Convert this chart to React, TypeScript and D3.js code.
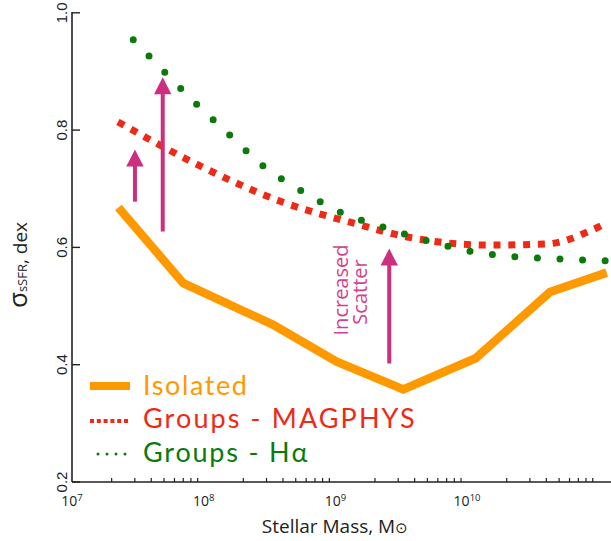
import React from 'react';
import * as d3 from 'd3';

const W = 611, H = 541;

// Data (log10 stellar mass, sigma_sSFR in dex)
const isolatedLogM = [7.352, 7.845, 8.528, 9.010, 9.516, 10.065, 10.629, 11.06];
const isolatedSigma = [0.668, 0.539, 0.468, 0.405, 0.358, 0.411, 0.524, 0.557];
const magphysLogM = [7.349, 7.972, 8.602, 9.111, 9.589, 10.151, 10.607, 10.933, 11.047];
const magphysSigma = [0.814, 0.739, 0.677, 0.643, 0.616, 0.604, 0.606, 0.628, 0.640];
const haLogM = [7.465, 7.708, 7.951, 8.205, 8.456, 8.731, 9.048, 9.371, 9.701, 10.035, 10.377, 10.721, 11.065];
const haSigma = [0.954, 0.898, 0.843, 0.790, 0.738, 0.698, 0.659, 0.634, 0.611, 0.593, 0.584, 0.580, 0.577];
const arrowLogM = [7.478, 7.689, 9.409];
const arrowFrom = [0.678, 0.627, 0.402];
const arrowTo = [0.767, 0.890, 0.598];
const yTicks = [0.2, 0.4, 0.6, 0.8, 1.0];
const yTickLabels = ['0.2', '0.4', '0.6', '0.8', '1.0'];
const xDecades = [7, 8, 9, 10];
const legendLabels = ['Isolated', 'Groups - MAGPHYS', 'Groups - H\u03b1'];

const ORANGE = '#ff9900';
const RED = '#ee2a16';
const GREEN = '#0b7a0b';
const MAGENTA = '#cc2f80';

const FONT = '"Open Sans", "Noto Sans", sans-serif';
const LFONT = 'Lato, "Open Sans", sans-serif';

export default function App() {
  const x = d3.scaleLog().domain([1e7, Math.pow(10, 11.093)]).range([72, 611]);
  const y = d3.scaleLinear().domain([0.2, 1.0]).range([482, 12.8]);

  const lin = d3.line<[number, number]>()
    .x(d => x(Math.pow(10, d[0])))
    .y(d => y(d[1]));
  const smooth = d3.line<[number, number]>()
    .x(d => x(Math.pow(10, d[0])))
    .y(d => y(d[1]))
    .curve(d3.curveMonotoneX);

  const isoPts = isolatedLogM.map((m, i) => [m, isolatedSigma[i]] as [number, number]);
  const magPts = magphysLogM.map((m, i) => [m, magphysSigma[i]] as [number, number]);
  const haPts = haLogM.map((m, i) => [m, haSigma[i]] as [number, number]);

  const minorTicks: number[] = [];
  xDecades.forEach(d => {
    for (let k = 2; k <= 9; k++) {
      const v = k * Math.pow(10, d);
      if (x(v) < 611) minorTicks.push(v);
    }
  });

  const x0 = 72, yBase = 482;

  return (
    <svg width={W} height={H} style={{ position: 'absolute', left: 0, top: 0, background: '#fff' }}>
      <rect x={0} y={0} width={W} height={H} fill="#fff" />
      {/* axes */}
      <line x1={x0} y1={12} x2={x0} y2={yBase} stroke="#222" strokeWidth={1.6} />
      <line x1={x0} y1={yBase} x2={W} y2={yBase} stroke="#222" strokeWidth={1.6} />
      {yTicks.map((t, i) => (
        <g key={'yt' + i}>
          <line x1={x0} x2={x0 + 8} y1={y(t)} y2={y(t)} stroke="#222" strokeWidth={1.4} />
          <text
            transform={`translate(${67},${y(t)}) rotate(-90)`}
            textAnchor="middle"
            fontFamily='"Liberation Sans", Arial, sans-serif'
            fontSize={15}
            fill="#222"
          >{yTickLabels[i]}</text>
        </g>
      ))}
      {minorTicks.map((v, i) => (
        <line key={'mt' + i} x1={x(v)} x2={x(v)} y1={yBase} y2={yBase - 4} stroke="#222" strokeWidth={1.2} />
      ))}
      {xDecades.map(d => (
        <text key={'xd' + d} x={x(Math.pow(10, d))} y={506} textAnchor="middle" fontFamily={FONT} fontSize={14} fill="#222">
          10<tspan fontSize={9.5} dy={-5}>{d}</tspan>
        </text>
      ))}
      <text x={335} y={533} textAnchor="middle" fontFamily={FONT} fontSize={19} fill="#222">
        Stellar Mass, M<tspan fontSize={15}>{'\u2299'}</tspan>
      </text>
      <text transform="translate(27,265) rotate(-90)" textAnchor="middle" fontFamily={FONT} fontSize={19} fill="#222">
        <tspan fontSize={26}>σ</tspan><tspan fontSize={13}>sSFR</tspan><tspan>, dex</tspan>
      </text>

      {/* series */}
      <path d={lin(isoPts) || ''} fill="none" stroke={ORANGE} strokeWidth={8.5} strokeLinejoin="miter" />
      <path d={smooth(magPts) || ''} fill="none" stroke={RED} strokeWidth={7} strokeDasharray="7 7.8" />
      <path d={smooth(haPts) || ''} fill="none" stroke={GREEN} strokeWidth={7} strokeLinecap="round" strokeDasharray="0 22.6" />

      {/* arrows */}
      {arrowLogM.map((m, i) => {
        const ax = x(Math.pow(10, m));
        const yb = y(arrowFrom[i]);
        const yt = y(arrowTo[i]);
        const hh = 17, hw = 8.7;
        return (
          <g key={'ar' + i}>
            <line x1={ax} x2={ax} y1={yb} y2={yt + hh - 1} stroke={MAGENTA} strokeWidth={4} />
            <path d={`M${ax},${yt} L${ax - hw},${yt + hh} L${ax + hw},${yt + hh} Z`} fill={MAGENTA} />
          </g>
        );
      })}
      <text transform="translate(348,290) rotate(-90)" textAnchor="middle" fontFamily={FONT} fontSize={20} fill="#d4418e">Increased</text>
      <text transform="translate(367,292) rotate(-90)" textAnchor="middle" fontFamily={FONT} fontSize={20} fill="#d4418e">Scatter</text>

      {/* legend */}
      <line x1={90} x2={130} y1={386} y2={386} stroke={ORANGE} strokeWidth={8} />
      <text x={143} y={395} fontFamily={LFONT} fontSize={27} letterSpacing={1.6} fill={ORANGE}>{legendLabels[0]}</text>
      <line x1={90} x2={130} y1={421} y2={421} stroke={RED} strokeWidth={4} strokeDasharray="4 2.8" />
      <text x={143} y={428} fontFamily={LFONT} fontSize={27} letterSpacing={2.1} fill={RED}>{legendLabels[1]}</text>
      <line x1={98} x2={126} y1={454} y2={454} stroke={GREEN} strokeWidth={3} strokeLinecap="round" strokeDasharray="0 9" />
      <text x={143} y={462} fontFamily={LFONT} fontSize={27} letterSpacing={1.8} fill={GREEN}>{legendLabels[2]}</text>
    </svg>
  );
}
